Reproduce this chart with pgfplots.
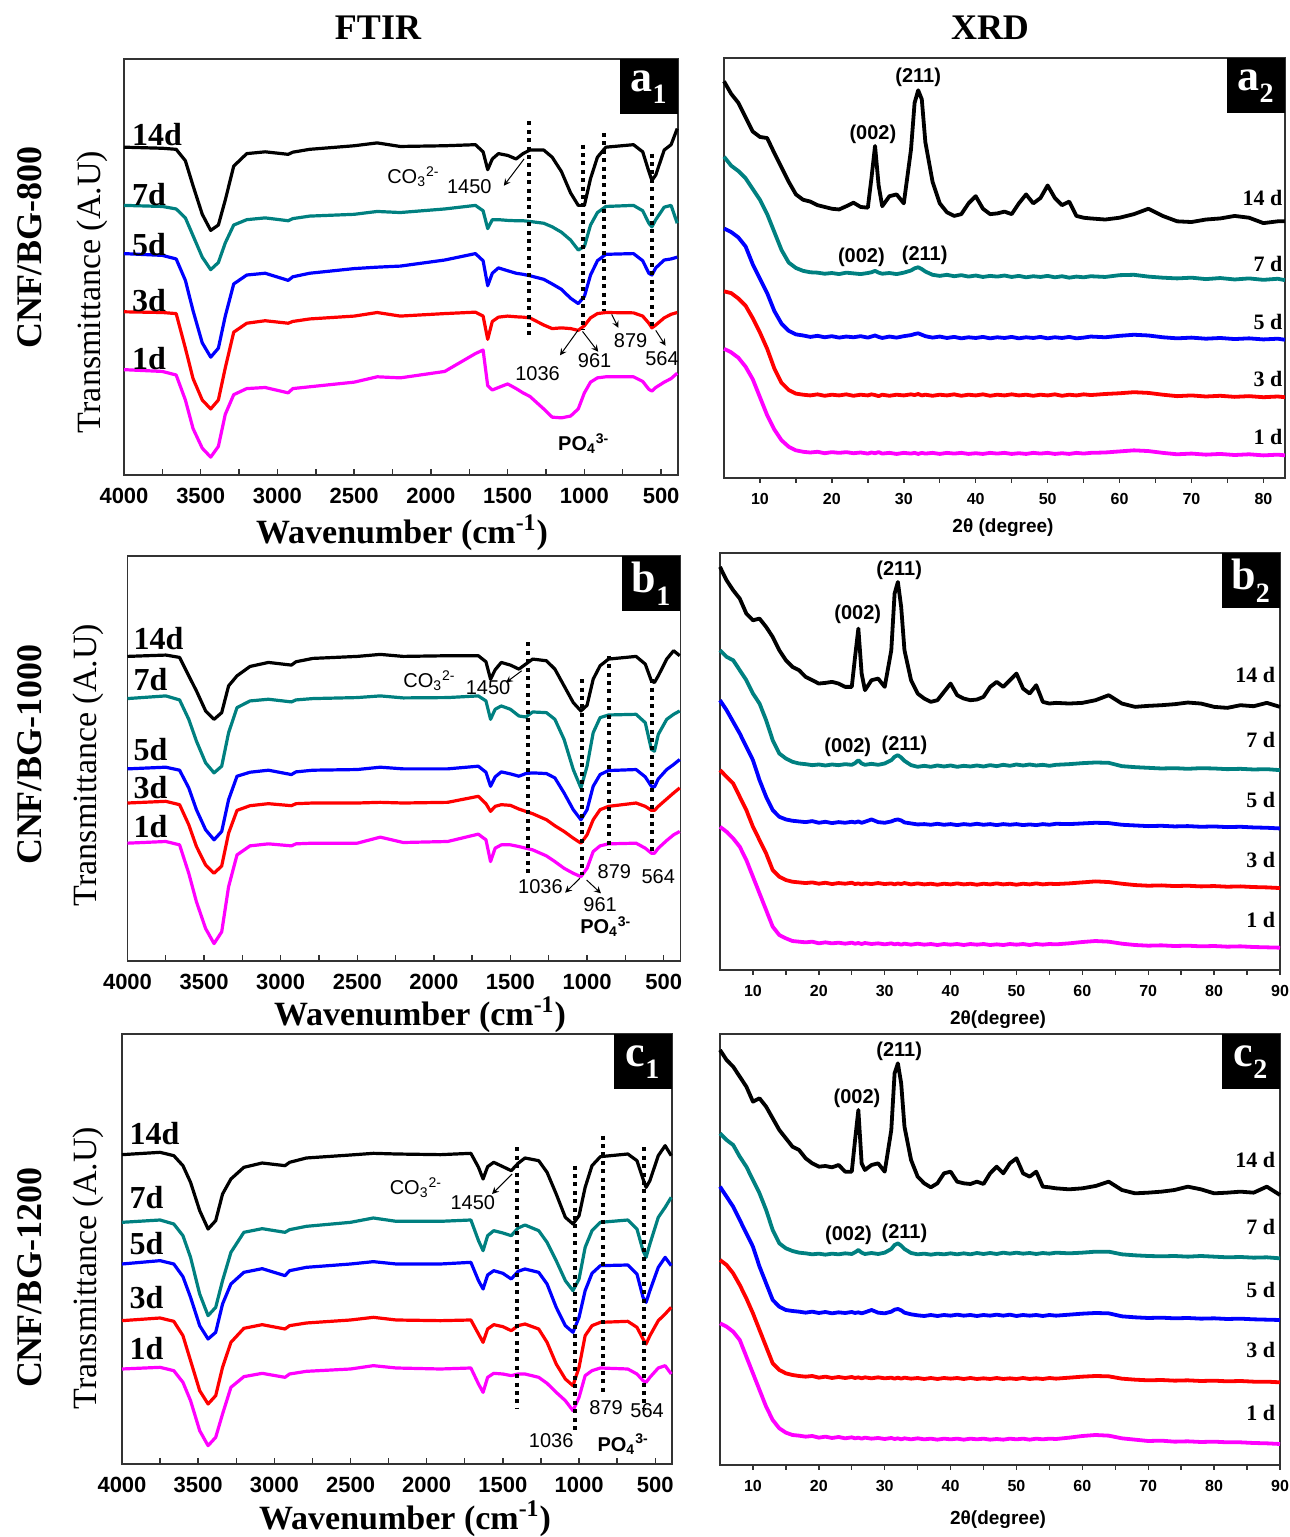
\documentclass[border=0pt]{standalone}
\usepackage{pgfplots}
\usepackage{pgfplotstable}
\pgfplotsset{compat=1.18}
\usepackage{fontspec}
\setmainfont{Liberation Serif}
\setsansfont{Liberation Sans}

\definecolor{cteal}{RGB}{0,128,128}
\definecolor{cblue}{RGB}{0,0,255}
\definecolor{cred}{RGB}{255,0,0}
\definecolor{cmag}{RGB}{255,0,255}

% ---------- FTIR tables (y = arbitrary offset units) ----------
\pgfplotstableread{
w s14 s7 s5 s3 s1
4000 918 755 620 457 295
3750 915 752 615 455 290
3660 912 745 605 452 280
3600 880 720 545 355 210
3550 810 670 460 270 130
3490 730 610 370 210 75
3435 685 575 330 185 50
3385 700 595 355 210 80
3340 770 650 445 300 170
3285 865 700 535 400 225
3200 900 715 560 425 242
3080 905 720 565 432 245
2930 898 712 545 425 230
2900 904 718 555 430 242
2790 912 725 565 437 247
2500 922 730 578 445 260
2350 930 738 582 455 275
2200 920 735 585 445 272
1910 922 745 602 452 290
1710 925 755 620 456 340
1660 905 740 600 445 350
1630 855 690 530 380 250
1600 885 715 565 430 238
1560 900 715 580 442 245
1500 895 713 572 445 255
1445 885 712 565 443 242
1400 900 712 562 442 230
1355 910 710 558 440 220
1265 910 705 548 420 185
1210 890 695 535 410 162
1150 850 680 520 412 160
1090 790 658 495 410 165
1040 755 630 480 405 185
1000 755 640 500 418 230
960 830 700 560 440 260
915 890 735 600 452 272
860 918 752 618 455 275
680 925 755 620 454 275
620 905 740 600 445 262
580 850 705 565 425 240
560 825 695 560 412 235
535 840 715 580 420 245
480 910 750 602 440 260
435 925 755 605 450 270
395 970 705 610 455 285
}\tabAone

\pgfplotstableread{
w s14 s7 s5 s3 s1
4000 910 784 574 472 352
3750 914 792 579 477 357
3660 907 780 570 467 347
3600 852 722 517 407 262
3550 807 657 452 342 177
3490 747 592 392 287 97
3435 722 562 362 262 52
3385 742 582 387 284 87
3340 822 682 482 382 222
3285 852 757 552 450 317
3200 880 777 564 464 344
3080 892 782 570 470 350
2930 884 774 557 464 344
2900 894 780 565 470 350
2790 904 784 570 472 352
2500 910 787 572 472 352
2350 916 792 579 474 370
2200 910 786 574 472 354
1910 912 787 574 474 357
1710 912 792 582 492 379
1660 894 777 564 470 362
1630 842 722 522 447 297
1600 870 752 550 462 337
1560 892 762 565 467 347
1500 884 752 559 465 347
1445 872 732 552 454 342
1400 887 729 560 447 337
1355 902 744 562 440 332
1265 897 742 560 422 314
1210 872 722 547 404 297
1150 822 662 502 387 277
1090 772 572 452 367 262
1040 747 517 422 352 252
1000 764 582 452 377 277
960 842 682 522 422 327
915 882 727 557 452 344
860 902 735 569 462 350
680 910 737 572 472 352
620 887 712 550 462 337
580 837 632 522 450 322
560 832 627 520 450 322
535 852 677 544 462 337
480 902 722 572 484 360
435 927 737 587 502 377
395 912 747 602 517 387
}\tabBone

\pgfplotstableread{
w s14 s7 s5 s3 s1
4000 928 725 600 430 285
3750 935 732 610 438 290
3660 925 720 600 428 280
3600 895 685 562 385 245
3550 845 620 500 310 190
3490 760 510 415 220 100
3435 705 445 375 180 55
3385 730 470 395 205 80
3340 810 550 480 290 150
3285 855 635 540 365 230
3200 890 695 575 407 262
3080 903 706 586 418 272
2930 895 695 565 405 260
2900 905 703 580 415 270
2790 918 713 590 423 278
2500 927 725 600 432 285
2350 932 738 607 440 295
2200 930 728 600 432 288
1910 928 728 600 430 285
1710 932 732 605 432 288
1660 890 670 550 390 240
1630 855 640 525 365 215
1600 892 685 567 405 260
1560 905 700 580 418 272
1500 892 693 572 412 270
1445 880 685 555 400 265
1400 902 708 578 415 270
1355 918 717 585 420 270
1265 910 700 575 405 260
1210 875 665 540 365 242
1150 810 610 470 300 215
1090 740 550 415 255 190
1040 720 520 395 235 160
1000 745 555 440 290 200
960 830 650 520 385 265
915 895 700 572 415 280
860 922 725 595 425 288
680 930 732 597 428 285
620 910 705 570 410 270
580 855 640 500 375 250
560 830 620 485 360 245
535 850 660 520 385 260
480 925 740 590 430 288
435 955 770 620 450 295
395 925 800 595 470 270
}\tabCone

% ---------- XRD tables ----------
\pgfplotstableread{
x s14 s7 s5 s3 s1
5 1105 895 695 520 360
6 1070 870 685 515 350
7 1045 855 670 500 335
8 1005 835 645 480 310
9 965 805 595 445 275
10 950 775 555 405 225
11 947 735 515 360 175
12 905 685 465 305 135
13 865 635 430 265 105
14 825 600 410 245 87
15 790 585 400 235 77
16 775 577 397 232 73
17 770 573 393 230 71
18 760 572 396 233 73
19 755 569 392 229 69
20 750 571 395 232 72
21 748 568 391 230 70
22 757 572 394 233 72
23 767 570 392 229 69
24 755 568 395 232 71
25 753 571 391 230 68
25.5 835 573 394 233 71
26 925 577 397 231 69
26.5 815 572 393 228 72
27 757 569 390 232 68
28 785 571 394 229 70
29 790 568 391 232 67
30 765 572 395 230 70
31 915 578 398 233 68
31.5 1045 584 401 231 70
32 1080 587 403 234 67
32.5 1055 582 399 230 70
33 935 575 395 232 68
34 825 566 391 229 70
35 765 563 394 232 67
36 740 566 390 230 70
37 730 562 393 233 68
38 735 565 389 229 70
39 765 561 392 232 67
40 785 564 390 230 69
41 750 560 393 233 67
42 735 563 389 229 70
43 737 561 392 232 68
44 742 564 390 230 70
45 735 560 393 233 67
46 765 563 389 230 69
47 790 559 392 232 67
48 765 562 390 229 70
49 780 560 393 232 68
50 815 563 389 230 70
51 780 559 392 233 67
52 760 562 390 229 69
53 770 558 393 232 67
54 730 561 389 230 70
55 725 559 391 233 68
56 723 562 394 231 70
58 720 560 392 234 71
60 725 565 396 236 74
62 735 566 399 239 77
64 750 561 397 237 75
66 730 558 392 232 70
68 715 556 389 228 66
70 713 558 391 230 68
72 720 554 388 227 65
74 723 557 390 229 67
76 730 553 387 226 64
78 725 556 389 228 66
80 710 552 386 225 63
82 715 555 388 227 65
83 715 551 385 225 63
}\tabAtwo

\pgfplotstableread{
x s14 s7 s5 s3 s1
5 1210 960 810 600 430
6 1170 940 780 580 415
7 1140 930 745 560 395
8 1115 900 710 520 370
9 1070 870 670 480 330
10 1050 830 630 430 280
11 1055 800 570 390 230
12 1030 750 520 350 180
13 1000 690 480 300 130
14 960 650 460 280 105
15 930 635 452 270 95
16 910 625 448 265 87
17 900 620 446 263 85
18 880 618 444 261 83
19 870 615 447 263 85
20 860 617 442 259 80
21 862 614 445 262 83
22 865 617 441 258 80
23 860 615 444 261 82
24 850 618 442 259 79
25 850 616 445 262 82
25.5 940 621 443 258 79
26 1025 630 446 260 81
26.5 890 620 442 257 78
27 840 616 445 260 81
28 870 619 452 258 78
29 875 616 444 261 80
30 850 620 442 258 77
31 960 630 446 260 80
31.5 1130 640 450 257 77
32 1165 645 452 260 79
32.5 1090 638 449 258 76
33 960 628 443 261 79
34 870 615 440 257 76
35 830 610 437 260 79
36 815 613 438 257 76
37 805 610 436 259 78
38 810 614 439 256 75
39 835 611 436 259 78
40 860 614 438 257 76
41 825 610 435 260 78
42 815 613 438 257 75
43 810 611 436 259 78
44 812 614 439 256 76
45 820 611 436 259 78
46 850 615 438 257 75
47 865 612 435 260 77
48 850 616 438 257 75
49 870 613 436 259 78
50 890 617 438 256 76
51 845 614 435 259 78
52 830 617 437 257 75
53 855 614 435 260 78
54 805 616 438 257 76
55 800 613 436 259 78
56 802 616 439 258 77
58 800 618 438 260 80
60 802 621 440 263 84
62 810 623 442 266 87
64 825 622 441 264 85
66 800 612 436 259 79
68 790 609 434 255 75
70 793 607 432 253 73
72 795 605 433 254 74
74 798 606 431 252 72
76 803 604 432 253 73
78 800 606 430 251 71
80 790 605 431 252 72
82 787 603 429 250 70
84 795 604 430 251 71
86 792 602 428 249 69
88 802 603 427 248 68
90 790 600 425 246 67
}\tabBtwo

\pgfplotstableread{
x s14 s7 s5 s3 s1
5 1245 995 835 615 425
6 1215 975 805 600 415
7 1195 960 775 575 400
8 1165 925 735 540 375
9 1135 895 695 500 325
10 1090 855 655 455 275
11 1100 815 595 405 225
12 1075 765 545 355 175
13 1040 705 495 305 135
14 1005 665 475 285 110
15 980 650 465 275 97
16 955 642 462 270 90
17 945 637 460 267 88
18 920 635 457 265 85
19 905 632 460 267 87
20 895 634 456 262 82
21 897 631 459 265 85
22 893 634 455 261 81
23 900 632 458 264 84
24 880 635 456 261 80
25 880 633 459 264 83
25.5 975 638 456 261 80
26 1065 645 458 263 82
26.5 905 637 455 260 79
27 885 633 458 263 82
28 900 636 465 260 79
29 905 633 457 263 81
30 880 637 455 260 78
31 1005 648 460 262 81
31.5 1175 660 466 259 78
32 1205 665 468 262 80
32.5 1145 658 464 259 77
33 1015 648 457 262 80
34 915 636 452 259 77
35 865 632 449 261 80
36 845 634 447 258 77
37 833 631 450 261 79
38 845 634 447 258 76
39 875 632 450 261 79
40 880 635 448 259 77
41 850 632 451 261 79
42 845 635 448 258 76
43 843 632 450 261 79
44 850 636 447 258 77
45 843 633 450 260 79
46 875 636 448 258 76
47 895 633 451 261 78
48 875 637 448 258 76
49 905 634 451 260 79
50 920 637 447 258 77
51 875 634 450 261 79
52 865 636 448 258 76
53 880 633 450 260 79
54 835 636 447 258 77
55 833 634 450 261 79
56 830 637 448 259 78
58 827 635 451 262 82
60 830 637 454 265 87
62 837 640 456 267 90
64 850 640 455 266 88
66 825 632 446 259 80
68 815 629 443 256 76
70 817 627 441 254 72
72 820 626 442 255 73
74 825 627 440 253 70
76 835 625 441 254 71
78 827 627 439 252 69
80 815 625 440 253 70
82 817 623 438 251 68
84 820 624 439 252 68
86 817 622 437 250 66
88 835 623 436 250 65
90 810 620 435 248 63
}\tabCtwo

\pgfplotsset{
  ftir/.style={
    scale only axis, clip=false,
    x dir=reverse, xmin=390, xmax=4000,
    xtick={500,1000,...,4000}, minor x tick num=1,
    ytick=\empty, xtick pos=left, tick align=inside,
    scaled x ticks=false,
    major tick length=3pt, minor tick length=3pt,
    axis line style={line width=0.8pt, black!80},
    every tick/.style={black!80, line width=0.7pt},
    xticklabel style={font=\sffamily\bfseries\fontsize{11}{12}\selectfont, yshift=-3pt},
    /pgf/number format/assume math mode=true,
    /pgf/number format/1000 sep={},
    every axis plot/.append style={line width=1.6pt, line join=round, mark=none},
  },
  xrd/.style={
    scale only axis, clip=false, xmin=5,
    xtick={10,20,...,90}, minor x tick num=1,
    ytick=\empty, xtick pos=left, tick align=outside,
    major tick length=2.5pt, minor tick length=2.5pt,
    axis line style={line width=0.8pt, black!80},
    every tick/.style={black!80, line width=0.7pt},
    xticklabel style={font=\sffamily\bfseries\fontsize{8}{9}\selectfont, yshift=-1.5pt},
    /pgf/number format/assume math mode=true,
    every axis plot/.append style={line width=1.9pt, line join=round, mark=none},
  },
}

\tikzset{
  dl/.style={font=\bfseries\fontsize{16}{18}\selectfont, anchor=west, inner sep=0pt},
  xdl/.style={font=\bfseries\fontsize{11}{12}\selectfont, anchor=east, inner sep=0pt},
  ann/.style={font=\sffamily\fontsize{10}{11}\selectfont, inner sep=0pt},
  pk/.style={font=\sffamily\bfseries\fontsize{10}{11}\selectfont, inner sep=0pt},
  dotv/.style={line width=2pt, dash pattern=on 2pt off 2.2pt},
  arr/.style={-stealth, line width=0.5pt},
  plab/.style={anchor=north east, fill=black, text=white, minimum width=29pt,
    minimum height=27.5pt, inner sep=0pt, font=\bfseries\fontsize{22}{22}\selectfont},
}

\newcommand{\ftirplots}[1]{%
  \addplot[black] table[x=w,y=s14]{#1};
  \addplot[cteal] table[x=w,y=s7]{#1};
  \addplot[cblue] table[x=w,y=s5]{#1};
  \addplot[cred] table[x=w,y=s3]{#1};
  \addplot[cmag] table[x=w,y=s1]{#1};
}
\newcommand{\xrdplots}[1]{%
  \addplot[black] table[x=x,y=s14]{#1};
  \addplot[cteal] table[x=x,y=s7]{#1};
  \addplot[cblue] table[x=x,y=s5]{#1};
  \addplot[cred] table[x=x,y=s3]{#1};
  \addplot[cmag] table[x=x,y=s1]{#1};
}
\newcommand{\sub}[2]{#1\raisebox{-0.28em}{\fontsize{14}{14}\selectfont #2}}

\begin{document}
\begin{tikzpicture}
\useasboundingbox (0,0) rectangle (645pt,768.5pt);

% column and row titles
\node[font=\bfseries\fontsize{18}{20}\selectfont] at (189pt,754.5pt) {FTIR};
\node[font=\bfseries\fontsize{18}{20}\selectfont] at (495pt,754.5pt) {XRD};
\node[font=\bfseries\fontsize{18}{20}\selectfont, rotate=90] at (15pt,644.5pt) {CNF/BG-800};
\node[font=\bfseries\fontsize{18}{20}\selectfont, rotate=90] at (15pt,391pt) {CNF/BG-1000};
\node[font=\bfseries\fontsize{18}{20}\selectfont, rotate=90] at (15pt,129.5pt) {CNF/BG-1200};
\node[font=\fontsize{17}{19}\selectfont, rotate=90] at (46pt,622.5pt) {Transmittance (A.U)};
\node[font=\fontsize{17}{19}\selectfont, rotate=90] at (44pt,386pt) {Transmittance (A.U)};
\node[font=\fontsize{17}{19}\selectfont, rotate=90] at (44pt,134.5pt) {Transmittance (A.U)};

% x labels
\node[font=\bfseries\fontsize{17}{19}\selectfont] at (201pt,502pt) {Wavenumber (cm\textsuperscript{-1})};
\node[font=\bfseries\fontsize{17}{19}\selectfont] at (210pt,261pt) {Wavenumber (cm\textsuperscript{-1})};
\node[font=\bfseries\fontsize{17}{19}\selectfont] at (202.5pt,9pt) {Wavenumber (cm\textsuperscript{-1})};
\node[font=\sffamily\bfseries\fontsize{9.5}{11}\selectfont] at (501.5pt,504.5pt) {2θ (degree)};
\node[font=\sffamily\bfseries\fontsize{9.5}{11}\selectfont] at (499pt,258.5pt) {2θ(degree)};
\node[font=\sffamily\bfseries\fontsize{9.5}{11}\selectfont] at (499pt,8.5pt) {2θ(degree)};

% ===== a1 =====
\begin{axis}[ftir, at={(62pt,739pt)}, anchor=north west, width=277pt, height=208pt, ymin=0, ymax=1165]
  \ftirplots{\tabAone}
  \node[dl] at (axis cs:3950,952) {14d};
  \node[dl] at (axis cs:3950,785) {7d};
  \node[dl] at (axis cs:3950,645) {5d};
  \node[dl] at (axis cs:3950,488) {3d};
  \node[dl] at (axis cs:3950,325) {1d};
  \draw[dotv] (axis cs:1364,990) -- (axis cs:1364,390);
  \draw[dotv] (axis cs:1012,925) -- (axis cs:1012,405);
  \draw[dotv] (axis cs:875,958) -- (axis cs:875,460);
  \draw[dotv] (axis cs:558,900) -- (axis cs:558,410);
  \node[ann, anchor=west] at (axis cs:2287,835) {CO\textsubscript{3}\textsuperscript{2-}};
  \node[ann] at (axis cs:1750,808) {1450};
  \draw[arr] (axis cs:1393,885) -- (axis cs:1525,810);
  \node[ann] at (axis cs:1305,285) {1036};
  \node[ann] at (axis cs:933,320) {961};
  \node[ann] at (axis cs:699,375) {879};
  \node[ann] at (axis cs:494,325) {564};
  \draw[arr] (axis cs:1042,405) -- (axis cs:1159,335);
  \draw[arr] (axis cs:1012,402) -- (axis cs:910,345);
  \draw[arr] (axis cs:822,450) -- (axis cs:778,412);
  \draw[arr] (axis cs:535,405) -- (axis cs:471,362);
  \node[pk, anchor=west] at (axis cs:1173,88) {PO\textsubscript{4}\textsuperscript{3-}};
  \node[plab] at (rel axis cs:1,1) {\sub{a}{1}};
\end{axis}

% ===== a2 =====
\begin{axis}[xrd, at={(362pt,739.5pt)}, anchor=north west, width=280.5pt, height=210pt, xmax=83, ymin=0, ymax=1170]
  \xrdplots{\tabAtwo}
  \node[xdl] at (axis cs:82.7,780) {14 d};
  \node[xdl] at (axis cs:82.7,595) {7 d};
  \node[xdl] at (axis cs:82.7,435) {5 d};
  \node[xdl] at (axis cs:82.7,275) {3 d};
  \node[xdl] at (axis cs:82.7,115) {1 d};
  \node[pk] at (axis cs:25.7,958) {(002)};
  \node[pk] at (axis cs:32.0,1117) {(211)};
  \node[pk] at (axis cs:24.1,615) {(002)};
  \node[pk] at (axis cs:32.9,620) {(211)};
  \node[plab] at (rel axis cs:1,1) {\sub{a}{2}};
\end{axis}

% ===== b1 =====
\begin{axis}[ftir, at={(63.75pt,490.5pt)}, anchor=north west, width=276.5pt, height=202.5pt, ymin=0, ymax=1210]
  \ftirplots{\tabBone}
  \node[dl] at (axis cs:3962,962) {14d};
  \node[dl] at (axis cs:3962,842) {7d};
  \node[dl] at (axis cs:3962,632) {5d};
  \node[dl] at (axis cs:3962,517) {3d};
  \node[dl] at (axis cs:3962,402) {1d};
  \draw[dotv] (axis cs:1383,952) -- (axis cs:1383,257);
  \draw[dotv] (axis cs:1032,842) -- (axis cs:1032,257);
  \draw[dotv] (axis cs:857,912) -- (axis cs:857,332);
  \draw[dotv] (axis cs:579,842) -- (axis cs:579,322);
  \node[ann, anchor=west] at (axis cs:2202,837) {CO\textsubscript{3}\textsuperscript{2-}};
  \node[ann] at (axis cs:1646,817) {1450};
  \draw[arr] (axis cs:1427,867) -- (axis cs:1529,832);
  \node[ann] at (axis cs:1304,222) {1036};
  \node[ann] at (axis cs:915,167) {961};
  \node[ann] at (axis cs:822,267) {879};
  \node[ann] at (axis cs:535,252) {564};
  \draw[arr] (axis cs:1047,247) -- (axis cs:1143,204);
  \draw[arr] (axis cs:1003,242) -- (axis cs:909,202);
  \node[pk, anchor=west] at (axis cs:1047,102) {PO\textsubscript{4}\textsuperscript{3-}};
  \node[plab] at (rel axis cs:1,1) {\sub{b}{1}};
\end{axis}

% ===== b2 =====
\begin{axis}[xrd, at={(360pt,492pt)}, anchor=north west, width=280pt, height=208.5pt, xmax=90, ymin=0, ymax=1252]
  \xrdplots{\tabBtwo}
  \node[xdl] at (axis cs:89.3,885) {14 d};
  \node[xdl] at (axis cs:89.3,690) {7 d};
  \node[xdl] at (axis cs:89.3,510) {5 d};
  \node[xdl] at (axis cs:89.3,330) {3 d};
  \node[xdl] at (axis cs:89.3,150) {1 d};
  \node[pk] at (axis cs:32.2,1200) {(211)};
  \node[pk] at (axis cs:25.9,1068) {(002)};
  \node[pk] at (axis cs:24.4,670) {(002)};
  \node[pk] at (axis cs:33.0,675) {(211)};
  \node[plab] at (rel axis cs:1,1) {\sub{b}{2}};
\end{axis}

% ===== c1 =====
\begin{axis}[ftir, at={(61pt,251.5pt)}, anchor=north west, width=275pt, height=215pt, ymin=0, ymax=1290]
  \ftirplots{\tabCone}
  \node[dl] at (axis cs:3953,990) {14d};
  \node[dl] at (axis cs:3953,800) {7d};
  \node[dl] at (axis cs:3953,660) {5d};
  \node[dl] at (axis cs:3953,500) {3d};
  \node[dl] at (axis cs:3953,345) {1d};
  \draw[dotv] (axis cs:1409,950) -- (axis cs:1409,165);
  \draw[dotv] (axis cs:1028,895) -- (axis cs:1028,100);
  \draw[dotv] (axis cs:843,985) -- (axis cs:843,205);
  \draw[dotv] (axis cs:573,950) -- (axis cs:573,165);
  \node[ann, anchor=west] at (axis cs:2245,830) {CO\textsubscript{3}\textsuperscript{2-}};
  \node[ann] at (axis cs:1697,785) {1450};
  \draw[arr] (axis cs:1439,870) -- (axis cs:1571,810);
  \node[ann] at (axis cs:1183,70) {1036};
  \node[ann] at (axis cs:822,170) {879};
  \node[ann] at (axis cs:553,160) {564};
  \node[pk, anchor=west] at (axis cs:881,60) {PO\textsubscript{4}\textsuperscript{3-}};
  \node[plab] at (rel axis cs:1,1) {\sub{c}{1}};
\end{axis}

% ===== c2 =====
\begin{axis}[xrd, at={(360pt,251.5pt)}, anchor=north west, width=280pt, height=215.5pt, xmax=90, ymin=0, ymax=1293]
  \xrdplots{\tabCtwo}
  \node[xdl] at (axis cs:89.3,915) {14 d};
  \node[xdl] at (axis cs:89.3,715) {7 d};
  \node[xdl] at (axis cs:89.3,525) {5 d};
  \node[xdl] at (axis cs:89.3,345) {3 d};
  \node[xdl] at (axis cs:89.3,155) {1 d};
  \node[pk] at (axis cs:32.2,1240) {(211)};
  \node[pk] at (axis cs:25.8,1100) {(002)};
  \node[pk] at (axis cs:24.5,690) {(002)};
  \node[pk] at (axis cs:33.0,695) {(211)};
  \node[plab] at (rel axis cs:1,1) {\sub{c}{2}};
\end{axis}
\end{tikzpicture}
\end{document}
